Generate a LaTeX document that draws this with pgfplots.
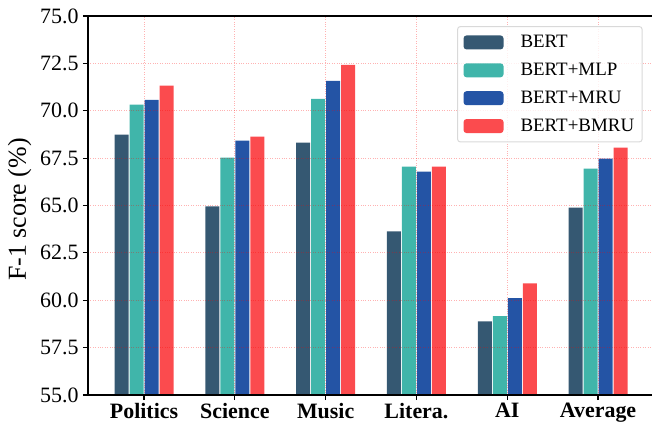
\documentclass[border=0pt]{standalone}
\usepackage{pgfplots}
\pgfplotsset{compat=1.18}
\usepackage{fontspec}
\setmainfont{Liberation Serif}
\definecolor{cBERT}{HTML}{355872}
\definecolor{cMLP}{HTML}{40B5AA}
\definecolor{cMRU}{HTML}{2454A5}
\definecolor{cBMRU}{HTML}{FB4B4E}
\pgfplotsset{lg/.style={legend image code/.code={\fill[##1, fill opacity=1] (0bp,-7bp) rectangle (40bp,7bp);}}}
\begin{document}
\begin{tikzpicture}
\begin{axis}[
  scale only axis, width=566bp, height=379bp,
  xmin=-0.617, xmax=5.616,
  ymin=55, ymax=75,
  ytick={55,57.5,60,62.5,65,67.5,70,72.5,75},
  xtick={0,1,2,3,4,5},
  xticklabels={Politics,Science,Music,Litera.,AI,Average},
  ybar, bar width=14bp,
  axis on top,
  grid=major,
  grid style={red, opacity=0.3, dotted, line width=1bp},
  axis line style={black, line width=1.2bp},
  tick style={black, line width=1.2bp},
  major tick length=5bp,
  tick align=outside,
  tick pos=left,
  /pgf/number format/.cd, fixed, fixed zerofill, precision=1, assume math mode=true,
  /pgfplots/.cd,
  yticklabel style={font=\fontsize{22}{26}\selectfont, xshift=-1bp},
  xticklabel style={font=\bfseries\fontsize{22}{26}\selectfont},
  ylabel={F-1 score (\%)},
  every axis y label/.style={at={(rel axis cs:0,0.4894)}, xshift=-62bp, rotate=90, anchor=base, font=\fontsize{26}{30}\selectfont},
  legend cell align=left,
  legend style={at={(0.980,0.9736)}, anchor=north east, draw=black!15, line width=1bp,
    rounded corners=3bp, fill=white, fill opacity=0.8, text opacity=1, draw opacity=1,
    font=\fontsize{19}{23}\selectfont, inner xsep=6bp, inner ysep=7bp,
    row sep=10bp, /tikz/every odd column/.style={column sep=15bp}},
]
\coordinate (O) at (rel axis cs:0,0);
\addplot[lg, fill=cBERT, draw=none, bar shift=-22.5bp] coordinates {(0,68.74) (1,64.95) (2,68.32) (3,63.63) (4,58.89) (5,64.89)};
\addplot[lg, fill=cMLP, draw=none, bar shift=-7.5bp] coordinates {(0,70.32) (1,67.53) (2,70.63) (3,67.05) (4,59.16) (5,66.95)};
\addplot[lg, fill=cMRU, draw=none, bar shift=7.5bp] coordinates {(0,70.58) (1,68.42) (2,71.58) (3,66.79) (4,60.11) (5,67.47)};
\addplot[lg, fill=cBMRU, draw=none, bar shift=22.5bp] coordinates {(0,71.32) (1,68.63) (2,72.42) (3,67.05) (4,60.89) (5,68.05)};
\legend{BERT,BERT+MLP,BERT+MRU,BERT+BMRU}
\end{axis}
\pgfresetboundingbox
\path[use as bounding box] (O) ++(-88bp,-29bp) rectangle ++(652bp,424bp);
\end{tikzpicture}
\end{document}
